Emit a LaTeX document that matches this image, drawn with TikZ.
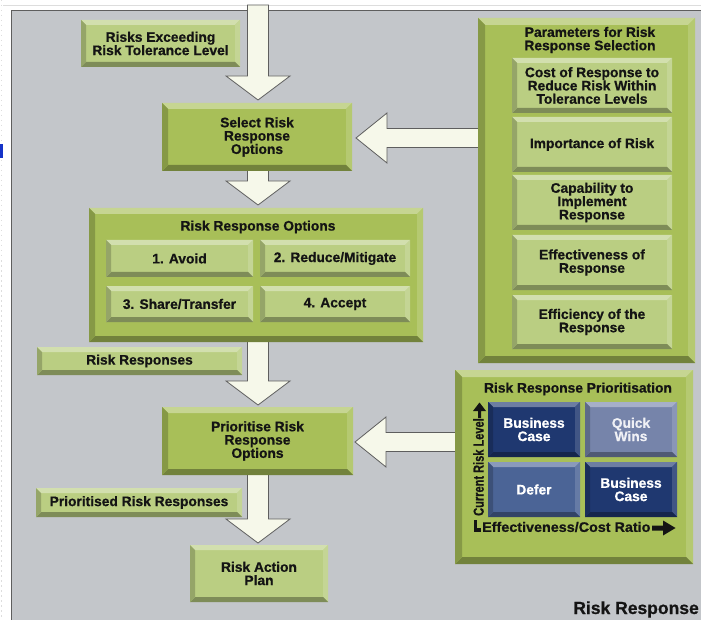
\documentclass[tikz,border=0pt]{standalone}
\usepackage{fontspec}
\setsansfont{Liberation Sans}[BoldFeatures={FakeBold=0.7}]
\usetikzlibrary{calc}

\definecolor{panel}{HTML}{C3C6CA}
\definecolor{panelline}{HTML}{5E5E5E}
\definecolor{olive}{HTML}{A8BF58}
\definecolor{pale}{HTML}{BACE82}
\definecolor{navy}{HTML}{1F3870}
\definecolor{slate}{HTML}{7684AA}
\definecolor{steel}{HTML}{4B6496}
\definecolor{cream}{HTML}{F6F8EA}
\definecolor{ink}{HTML}{141414}
\definecolor{rule}{HTML}{DDDDDD}
\definecolor{tick}{HTML}{1533C8}

\newcommand\bvw{5pt}
\newcommand\labfont{\sffamily\bfseries\fontsize{13.8}{13.3}\selectfont}

\tikzset{
  bw/.code={\renewcommand\bvw{#1}},
  bevelbox/.style={fill=#1, inner sep=0pt, align=center, text=ink, font=\labfont,
    path picture={
      % top highlight
      \fill[#1!65!white] (path picture bounding box.north west) -- (path picture bounding box.north east)
        -- ([shift={(-\bvw,-\bvw)}]path picture bounding box.north east)
        -- ([shift={(\bvw,-\bvw)}]path picture bounding box.north west) -- cycle;
      % right highlight
      \fill[#1!85!white] (path picture bounding box.north east) -- (path picture bounding box.south east)
        -- ([shift={(-\bvw,\bvw)}]path picture bounding box.south east)
        -- ([shift={(-\bvw,-\bvw)}]path picture bounding box.north east) -- cycle;
      % bottom shadow
      \fill[#1!68!black] (path picture bounding box.south east) -- (path picture bounding box.south west)
        -- ([shift={(\bvw,\bvw)}]path picture bounding box.south west)
        -- ([shift={(-\bvw,\bvw)}]path picture bounding box.south east) -- cycle;
      % left shade
      \fill[#1!80!black] (path picture bounding box.south west) -- (path picture bounding box.north west)
        -- ([shift={(\bvw,-\bvw)}]path picture bounding box.north west)
        -- ([shift={(\bvw,\bvw)}]path picture bounding box.south west) -- cycle;
    }},
  quad/.style={bevelbox=#1, text=white},
  title/.style={inner sep=0pt, align=center, text=ink, font=\labfont},
  fatarrow/.style={fill=cream, draw=panelline, line width=0.8pt, line join=miter},
  axisglyph/.style={fill=ink},
}

% broad downward arrow: shaft from the first point, tip at the second
\newcommand\fatdown[2]{%
  \draw[fatarrow] let \p1=(#1), \p2=(#2) in
    (\x2-10.5pt,\y1) -- (\x2-10.5pt,\y2+24pt) -- (\x2-32pt,\y2+24pt) -- (\x2,\y2)
    -- (\x2+32pt,\y2+24pt) -- (\x2+10.5pt,\y2+24pt) -- (\x2+10.5pt,\y1) -- cycle;}
% broad leftward arrow: shaft from the first point, tip at the second
\newcommand\fatleft[2]{%
  \draw[fatarrow] let \p1=(#1), \p2=(#2) in
    (\x1,\y2+9.5pt) -- (\x2+31pt,\y2+9.5pt) -- (\x2+31pt,\y2+25pt) -- (\x2,\y2)
    -- (\x2+31pt,\y2-25pt) -- (\x2+31pt,\y2-9.5pt) -- (\x1,\y2-9.5pt) -- cycle;}

\begin{document}
\begin{tikzpicture}[x=1pt,y=-1pt]
\useasboundingbox (0,0) rectangle (701,620);
\fill[white] (0,0) rectangle (701,620);

% page furniture
\draw[rule, line width=1.2pt] (3,5.5) -- (701,5.5);
\draw[rule, line width=1pt, dash pattern=on 1.5pt off 3.5pt] (1,0) -- (1,620);
\fill[tick] (0,144) rectangle (2.5,158);

% grey panel
\fill[panel] (11,10) rectangle (705,625);
\draw[panelline, line width=1.3pt] (11.6,625) -- (11.6,10.6) -- (705,10.6);

% anchor points placed before the boxes so arrows sit underneath
\coordinate (feed) at (258,5);
\coordinate (selc) at (257,137);
\coordinate (rroc) at (256,275);
\coordinate (prioc) at (257.5,441);
\coordinate (parc) at (586.5,190.5);
\coordinate (rrpc) at (574,467);
\coordinate (selt) at (258,100);
\coordinate (rrot) at (258,205);
\coordinate (priot) at (258,405);
\coordinate (rapt) at (258,543);
\coordinate (sele) at (356,138);
\coordinate (prioe) at (355,442);

\fatdown{feed}{selt}
\fatdown{selc}{rrot}
\fatdown{rroc}{priot}
\fatdown{prioc}{rapt}
\fatleft{parc}{sele}
\fatleft{rrpc}{prioe}

% left-hand process column
\node[bevelbox=pale, minimum width=159, minimum height=47] (rte) at (160.5,43.5)
  {Risks Exceeding\\Risk Tolerance Level};
\node[bevelbox=olive, bw=6pt, minimum width=190, minimum height=68] (sel) at (257,137)
  {Select Risk\\Response\\Options};

\node[bevelbox=olive, bw=6pt, minimum width=334, minimum height=134] (rro) at (256,275) {};
\node[title] (rrotitle) at (258,227) {Risk Response Options};
\node[bevelbox=pale, minimum width=147, minimum height=37] (avoid) at (179.5,258.5) {1. Avoid};
\node[bevelbox=pale, minimum width=150, minimum height=37] (reduce) at (335,258.5) {2. Reduce/Mitigate};
\node[bevelbox=pale, minimum width=147, minimum height=36] (share) at (179.5,304) {3. Share/Transfer};
\node[bevelbox=pale, minimum width=150, minimum height=36] (accept) at (335,304) {4. Accept};

\node[bevelbox=pale, minimum width=205, minimum height=28] (rresp) at (139.5,361) {Risk Responses};
\node[bevelbox=olive, bw=6pt, minimum width=191, minimum height=68] (prio) at (257.5,441)
  {Prioritise Risk\\Response\\Options};
\node[bevelbox=pale, minimum width=206, minimum height=29] (prr) at (139,502.5) {Prioritised Risk Responses};
\node[bevelbox=pale, minimum width=138, minimum height=57] (rap) at (259,573.5) {Risk Action\\Plan};

% selection parameters
\node[bevelbox=olive, bw=7pt, minimum width=217, minimum height=345] (par) at (586.5,190.5) {};
\node[title] (partitle) at (590,40) {Parameters for Risk\\Response Selection};
\node[bevelbox=pale, minimum width=160, minimum height=55] (cost) at (592,85.5)
  {Cost of Response to\\Reduce Risk Within\\Tolerance Levels};
\node[bevelbox=pale, minimum width=160, minimum height=55] (imp) at (592,144.5) {Importance of Risk};
\node[bevelbox=pale, minimum width=160, minimum height=55] (cap) at (592,202.5)
  {Capability to\\Implement\\Response};
\node[bevelbox=pale, minimum width=160, minimum height=55] (eff) at (592,262.5) {Effectiveness of\\Response};
\node[bevelbox=pale, minimum width=160, minimum height=54] (effi) at (592,322) {Efficiency of the\\Response};

% prioritisation matrix
\node[bevelbox=olive, bw=7pt, minimum width=238, minimum height=194] (rrp) at (574,467) {};
\node[title] (rrptitle) at (578,389) {Risk Response Prioritisation};
\node[quad=navy, minimum width=92, minimum height=55] (bcase) at (534,429.5) {Business\\Case};
\node[quad=slate, minimum width=92, minimum height=55, text=white!88!slate] (qwins) at (631,429.5) {Quick\\Wins};
\node[quad=steel, minimum width=92, minimum height=55] (defer) at (534,489.5) {Defer};
\node[quad=navy, minimum width=92, minimum height=55] (bcase2) at (631,489.5) {Business\\Case};

% matrix axes
\node[title, rotate=90] (yaxis) at (478.5,467) {\scalebox{0.8}[1.05]{Current Risk Level}};
\node[title, anchor=west] (xaxis) at (482,527) {\scalebox{1.04}[1]{Effectiveness/Cost Ratio}};
\fill[axisglyph] (479.5,402.5) -- (486,411) -- (481,411) -- (481,418) -- (478,418) -- (478,411) -- (473,411) -- cycle;
\fill[axisglyph] (473.5,520) rectangle (477,531.5);
\fill[axisglyph] (473.5,528) rectangle (481,531.5);
\fill[axisglyph] (652,525.5) -- (663,525.5) -- (663,520.5) -- (675.5,528) -- (663,535.5) -- (663,530.5) -- (652,530.5) -- cycle;

% caption
\node[anchor=base east, inner sep=0pt, text=ink, font=\sffamily\bfseries\fontsize{17.5}{18}\selectfont]
  (caption) at (699,614) {Risk Response};
\end{tikzpicture}
\end{document}
